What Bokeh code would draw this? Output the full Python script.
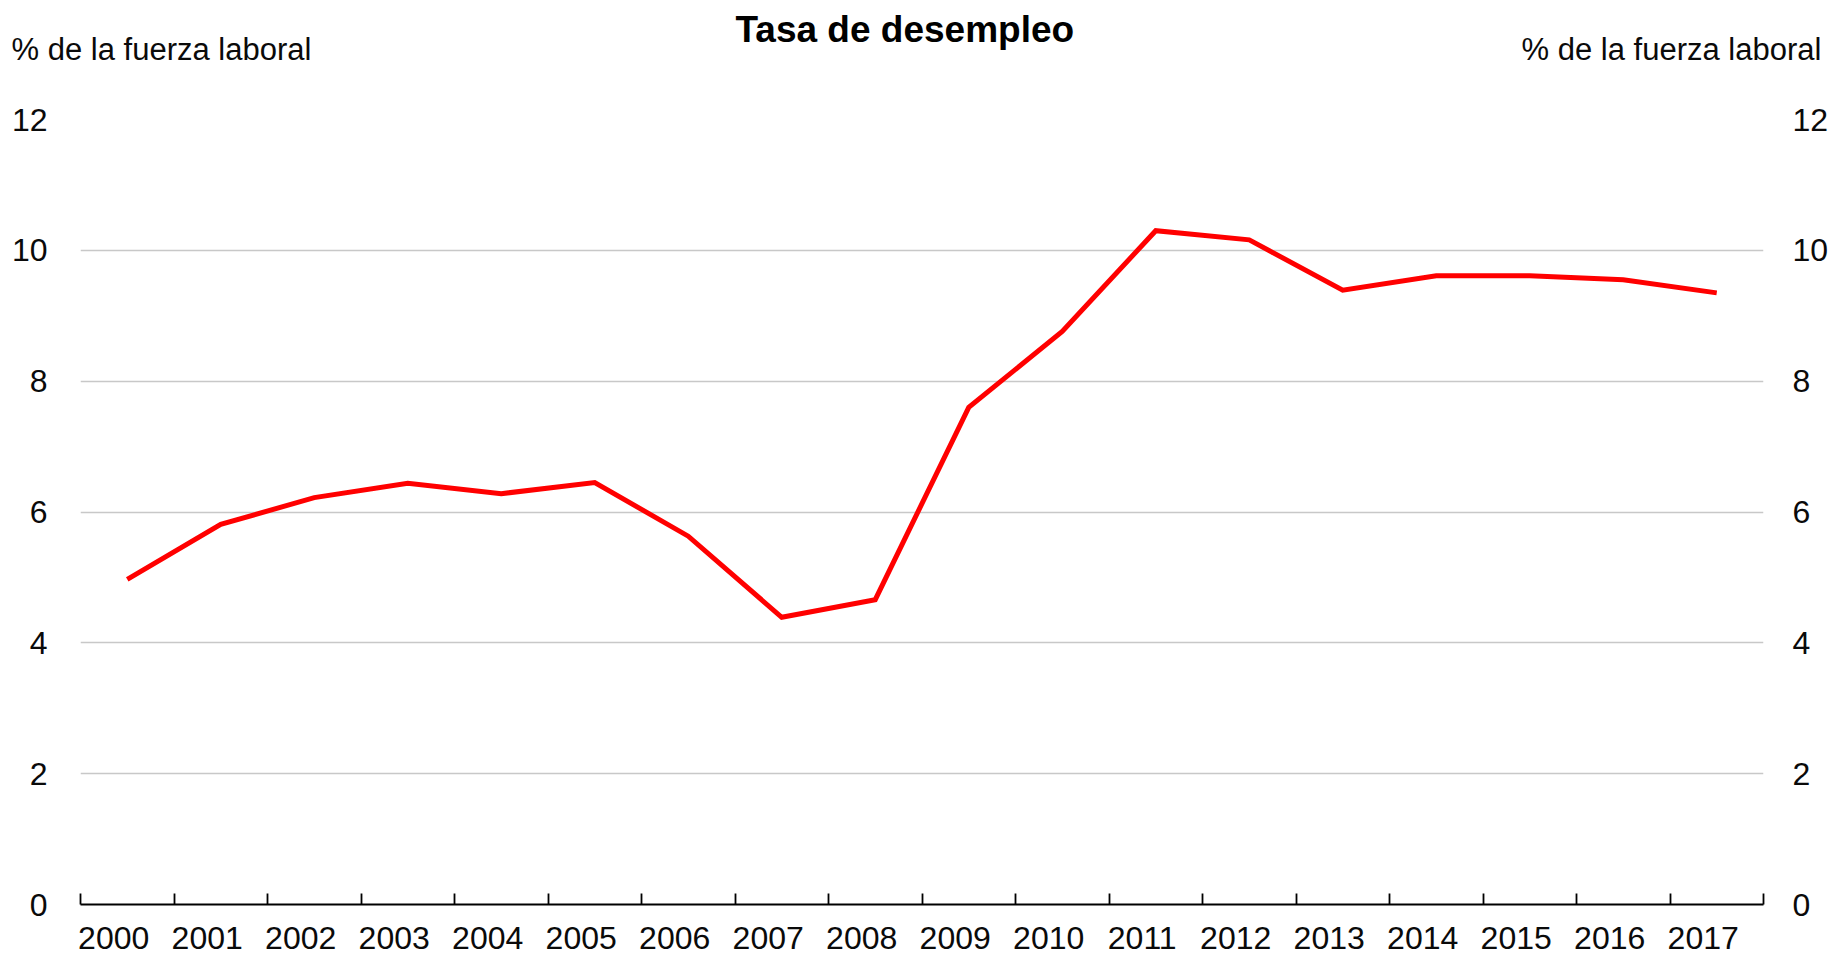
from bokeh.plotting import figure
from bokeh.models import (Range1d, LinearAxis, FixedTicker, CustomJSTickFormatter,
                          Grid, ColumnDataSource)
from bokeh.embed import file_html
from bokeh.resources import INLINE

# ---- data ----
years = ["2000", "2001", "2002", "2003", "2004", "2005", "2006", "2007", "2008",
         "2009", "2010", "2011", "2012", "2013", "2014", "2015", "2016", "2017"]
rate = [4.97, 5.81, 6.22, 6.44, 6.28, 6.45, 5.63, 4.39, 4.66,
        7.60, 8.76, 10.30, 10.16, 9.39, 9.61, 9.61, 9.55, 9.35]
y_ticks = [0, 2, 4, 6, 8, 10, 12]
title_text = "Tasa de desempleo"
unit_text = "% de la fuerza laboral"

FONT = "Liberation Sans"
FS = "32px"
TXT = "#0a0a0a"

n = len(years)
src = ColumnDataSource(dict(x=[i + 0.5 for i in range(n)], y=rate))

p = figure(width=1847, height=957, output_backend="svg", toolbar_location=None,
           x_range=Range1d(0, n), y_range=Range1d(0, 12),
           x_axis_location=None, y_axis_location=None,
           min_border_left=80, min_border_right=84, min_border_top=119,
           min_border_bottom=53, title=title_text)
p.center = []
p.outline_line_color = None
p.background_fill_color = "white"
p.border_fill_color = "white"

p.title.text_font = FONT
p.title.text_font_size = "37px"
p.title.text_font_style = "bold"
p.title.text_color = "black"
p.title.align = "left"
p.title.offset = 655
p.title.standoff = -42

# unit captions above both value axes (placed as tick labels of a top axis)
unit_axis = LinearAxis(ticker=FixedTicker(ticks=[0.866, 17.016]),
                       formatter=CustomJSTickFormatter(args=dict(t=unit_text),
                                                       code="return t"),
                       axis_line_color=None, major_tick_line_color=None,
                       minor_tick_line_color=None, major_tick_in=0, major_tick_out=0,
                       major_label_standoff=53,
                       major_label_text_font=FONT, major_label_text_font_size="31px",
                       major_label_text_color=TXT)
p.add_layout(unit_axis, "above")

# x axis: tick marks at category boundaries
ax_ticks = LinearAxis(ticker=FixedTicker(ticks=list(range(n + 1))),
                      formatter=CustomJSTickFormatter(code="return ''"),
                      major_tick_in=11, major_tick_out=0,
                      major_label_standoff=0, major_label_text_font_size="1px",
                      axis_line_color="black", axis_line_width=2.2,
                      major_tick_line_color="black", major_tick_line_width=1.8,
                      minor_tick_line_color=None)
p.add_layout(ax_ticks, "below")

# x axis: year labels
ax_labels = LinearAxis(ticker=FixedTicker(ticks=[i + 0.355 for i in range(n)]),
                       formatter=CustomJSTickFormatter(args=dict(labels=years),
                                                       code="return labels[Math.floor(tick)]"),
                       axis_line_color=None, major_tick_line_color=None,
                       minor_tick_line_color=None, major_tick_in=0, major_tick_out=0,
                       major_label_standoff=22,
                       major_label_text_font=FONT, major_label_text_font_size=FS,
                       major_label_text_color=TXT)
p.add_layout(ax_labels, "below")

def yaxis(standoff):
    return LinearAxis(ticker=FixedTicker(ticks=y_ticks),
                      axis_line_color=None, major_tick_line_color=None,
                      minor_tick_line_color=None, major_tick_in=0, major_tick_out=0,
                      major_label_standoff=standoff,
                      major_label_text_font=FONT, major_label_text_font_size=FS,
                      major_label_text_color=TXT)

ly = yaxis(33)
ry = yaxis(29)
p.add_layout(ly, "left")
p.add_layout(ry, "right")

p.add_layout(Grid(dimension=1, ticker=ly.ticker, grid_line_color="#c8c8c8",
                  grid_line_width=1.6))

p.line("x", "y", source=src, line_color="#ff0000", line_width=5,
       line_join="miter")

open("out.html", "w").write(file_html(p, INLINE))
